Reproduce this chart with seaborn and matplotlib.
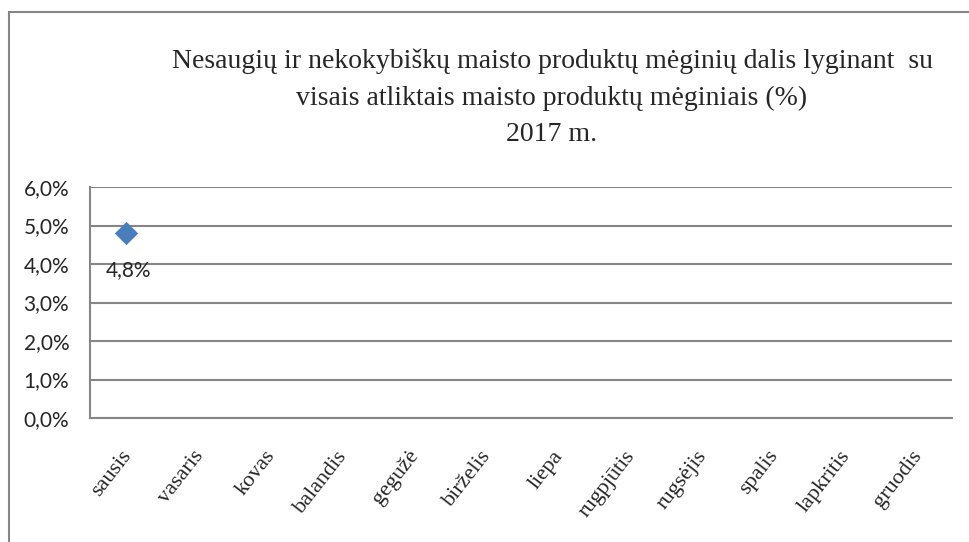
import numpy as np
import pandas as pd
import seaborn as sns
import matplotlib.pyplot as plt
from matplotlib.patches import Rectangle
from matplotlib.transforms import ScaledTranslation

months = ['sausis', 'vasaris', 'kovas', 'balandis', 'gegužė', 'birželis',
          'liepa', 'rugpjūtis', 'rugsėjis', 'spalis', 'lapkritis', 'gruodis']
values = [4.8, np.nan, np.nan, np.nan, np.nan, np.nan,
          np.nan, np.nan, np.nan, np.nan, np.nan, np.nan]
y_ticks = [0, 1, 2, 3, 4, 5, 6]
y_labels = ['0,0%', '1,0%', '2,0%', '3,0%', '4,0%', '5,0%', '6,0%']
title = ('Nesaugių ir nekokybiškų maisto produktų mėginių dalis lyginant  su\n'
         'visais atliktais maisto produktų mėginiais (%)\n'
         '2017 m.')

df = pd.DataFrame({'pos': np.arange(len(months)), 'month': months, 'value': values})

sns.set_style('white')
fig = plt.figure(figsize=(9.69, 5.42), dpi=100)
ax = fig.add_axes([90 / 969, 1 - 418 / 542, 862 / 969, 231 / 542])

sns.scatterplot(data=df.dropna(), x='pos', y='value', marker='D', s=130,
                color='#4A7EBB', edgecolor='#4A7EBB', linewidth=0.5, ax=ax, zorder=5)

ax.set_xlim(-0.5, len(months) - 0.5)
ax.set_ylim(0, 6)
ax.set_yticks(y_ticks)
ax.set_yticklabels(y_labels, fontsize=15, family='Lato')
ax.set_xticks(df['pos'])
ax.set_xticklabels(months, fontsize=16, family='Liberation Serif',
                   rotation=52, ha='right', rotation_mode='anchor')
ax.tick_params(axis='both', length=0)
ax.tick_params(axis='y', pad=15)
# shift the slanted month labels, after tick_params (it resets transforms)
off = ScaledTranslation(-5 / 100, -24 / 100, fig.dpi_scale_trans)
for lbl in ax.get_xticklabels():
    lbl.set_transform(lbl.get_transform() + off)
ax.set_xlabel('')
ax.set_ylabel('')

ax.grid(axis='y', color='#868686', linewidth=1.5)
ax.set_axisbelow(True)
for side in ['top', 'right']:
    ax.spines[side].set_visible(False)
for side in ['left', 'bottom']:
    ax.spines[side].set_color('#868686')
    ax.spines[side].set_linewidth(1.5)

for x, v in zip(df['pos'], df['value']):
    if not np.isnan(v):
        ax.annotate(f'{v:.1f}%'.replace('.', ','), (x, v), xytext=(3, -37),
                    textcoords='offset pixels',
                    ha='center', va='center', fontsize=15, family='Lato')

fig.text(552 / 969, 1 - 98 / 542, title, ha='center', va='center',
         fontsize=20, family='Liberation Serif', linespacing=1.6)

fig.patches.append(Rectangle((9 / 969, -0.1), 1.2, 1 - 12 / 542 + 0.1,
                             transform=fig.transFigure, fill=False,
                             edgecolor='#868686', linewidth=1.5))

fig.savefig('out.png', dpi=100)
